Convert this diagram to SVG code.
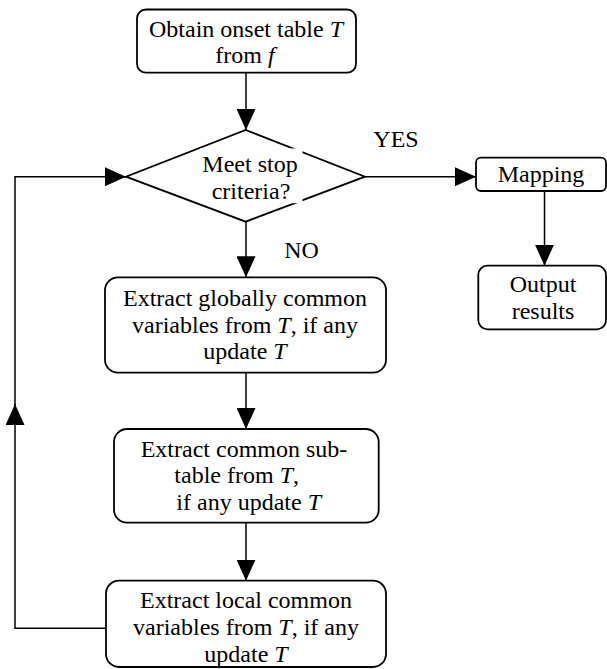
<svg xmlns="http://www.w3.org/2000/svg" width="607" height="669" viewBox="0 0 607 669">
<style>
.box{fill:#fff;stroke:#000;stroke-width:1.8}
.ln{fill:none;stroke:#000;stroke-width:1.5}
.t{font-size:24px;fill:#000;text-anchor:middle}
.i{font-style:italic}
</style>
<defs>
<marker id="ah" markerUnits="userSpaceOnUse" markerWidth="21" markerHeight="19" refX="21" refY="9.5" orient="auto">
<path d="M0,0 L21,9.5 L0,19 z" fill="#000"/>
</marker>
</defs>
<rect width="607" height="669" fill="#fff"/>
<g id="connectors">
<path class="ln" d="M246,72.7 V130" marker-end="url(#ah)"/>
<path class="ln" d="M246,221.7 V277.3" marker-end="url(#ah)"/>
<path class="ln" d="M246,372.7 V429" marker-end="url(#ah)"/>
<path class="ln" d="M246,522.7 V580.7" marker-end="url(#ah)"/>
<path class="ln" d="M365,176.7 H476" marker-end="url(#ah)"/>
<path class="ln" d="M544.5,191 V265.7" marker-end="url(#ah)"/>
<path class="ln" d="M106,628.3 H15 V404" marker-end="url(#ah)"/>
<path class="ln" d="M15,405 V176.7 H126" marker-end="url(#ah)"/>
</g>
<g font-family="Liberation Serif, Times New Roman, DejaVu Serif, serif">
<g id="start">
<rect class="box" x="137" y="9.5" width="219" height="63.2" rx="9"/>
<text class="t" x="246" y="37.3">Obtain onset table <tspan class="i">T</tspan></text>
<text class="t" x="245" y="62.7">from <tspan class="i">f</tspan></text>
</g>
<g id="decision">
<path class="box" d="M245.7,130 L365,176.7 L245.7,221.7 L126,176.7 z"/>
<rect x="200" y="148.4" width="102.5" height="54.8" fill="#fff"/>
<text class="t" x="250" y="171.7">Meet stop</text>
<text class="t" x="251" y="199">criteria?</text>
</g>
<g id="labels">
<text class="t" x="396" y="146.7">YES</text>
<text class="t" x="301.5" y="258.3">NO</text>
</g>
<g id="mapping">
<rect class="box" x="476" y="157.7" width="130" height="33.3" rx="5"/>
<text class="t" x="541" y="181.7">Mapping</text>
</g>
<g id="output">
<rect class="box" x="478.3" y="265.7" width="127.7" height="63.6" rx="9"/>
<text class="t" x="543" y="291.7">Output</text>
<text class="t" x="543" y="319">results</text>
</g>
<g id="extract-global">
<rect class="box" x="105" y="277.3" width="281" height="95.4" rx="13"/>
<text class="t" x="245" y="306">Extract globally common</text>
<text class="t" x="245" y="332.7">variables from <tspan class="i">T</tspan>, if any</text>
<text class="t" x="245" y="359.3">update <tspan class="i">T</tspan></text>
</g>
<g id="extract-subtable">
<rect class="box" x="114" y="429" width="264.7" height="93.7" rx="13"/>
<text class="t" x="244" y="456.7">Extract common sub-</text>
<text class="t" x="236.7" y="483.3">table from <tspan class="i">T</tspan>,</text>
<text class="t" x="248.7" y="510">if any update <tspan class="i">T</tspan></text>
</g>
<g id="extract-local">
<rect class="box" x="106" y="580.7" width="280" height="86.3" rx="13"/>
<text class="t" x="246" y="608.3">Extract local common</text>
<text class="t" x="246" y="635">variables from <tspan class="i">T</tspan>, if any</text>
<text class="t" x="246" y="661.7">update <tspan class="i">T</tspan></text>
</g>
</g>
</svg>
